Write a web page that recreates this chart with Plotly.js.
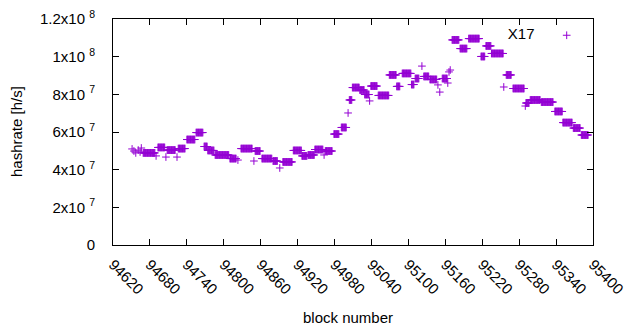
<!DOCTYPE html>
<html>
<head>
<meta charset="utf-8">
<script src="https://cdn.plot.ly/plotly-3.0.1.min.js"></script>
<style>html,body{margin:0;padding:0;background:#fff;}#chart{width:640px;height:330px;}</style>
</head>
<body>
<div id="chart"></div>
<script>
// Runs of consecutive blocks that share one hashrate value
const runStart = [94651,94654,94657,94661,94664,94666,94669,94690,94693,94706,94708,94724,94726,94740,94755,94768,94774,94786,94810,94823,94828,94849,94851,94862,94880,94891,94896,94913,94927,94937,94948,94963,94965,94979,94991,95002,95004,95009,95021,95029,95037,95039,95051,95069,95081,95090,95105,95111,95122,95125,95135,95148,95151,95155,95164,95166,95168,95171,95184,95198,95218,95226,95235,95255,95259,95270,95290,95291,95298,95316,95338,95351,95368,95381];
const runEnd   = [94651,94654,94657,94661,94664,94666,94688,94690,94704,94706,94721,94724,94737,94753,94766,94773,94784,94808,94820,94823,94846,94849,94859,94878,94887,94891,94911,94926,94935,94947,94961,94963,94976,94987,94999,95002,95008,95020,95028,95036,95037,95049,95068,95080,95086,95104,95109,95117,95122,95133,95146,95148,95151,95163,95164,95166,95168,95182,95195,95215,95224,95234,95254,95255,95267,95288,95290,95296,95314,95335,95350,95366,95379,95392];
const runValueM = [51.0,49.9,48.9,50.4,49.4,51.5,48.9,47.3,51.8,46.7,50.4,46.7,51.2,56.0,59.7,52.3,50.2,47.8,45.9,45.1,51.2,44.6,49.9,45.9,44.6,40.9,44.1,50.2,47.3,47.8,50.7,47.8,49.9,58.9,62.4,70.1,77.0,83.6,82.3,79.9,76.5,84.4,79.4,90.3,84.2,91.1,85.2,88.4,95.0,89.5,87.9,85.0,81.2,88.4,86.0,91.9,92.9,108.9,104.3,109.6,100.1,105.7,101.7,83.9,90.3,83.1,73.8,75.4,77.0,75.9,70.9,65.0,62.1,58.4];

const xTickVals = [94620,94680,94740,94800,94860,94920,94980,95040,95100,95160,95220,95280,95340,95400];
const yTickVals = [0,2e7,4e7,6e7,8e7,1e8,1.2e8];
const yTickText = ['0','2x10 <sup>7</sup>','4x10 <sup>7</sup>','6x10 <sup>7</sup>','8x10 <sup>7</sup>','1x10 <sup>8</sup>','1.2x10 <sup>8</sup>'];

// decode the run-length table into one point per block
const blocks = [], hashrate = [];
for (let i = 0; i < runStart.length; i++) {
  for (let b = runStart[i]; b <= runEnd[i]; b++) {
    blocks.push(b);
    hashrate.push(runValueM[i] * 1e6);
  }
}

const FONT = {family: '"Liberation Sans", Arial, sans-serif', size: 15, color: '#000'};
const purple = '#9400D3';

const trace = {
  x: blocks, y: hashrate, type: 'scatter', mode: 'markers', name: ' ',
  marker: {symbol: 'cross-thin', size: 5.5, color: purple, line: {color: purple, width: 1}},
  hoverinfo: 'x+y'
};

const layout = {
  width: 640, height: 330,
  margin: {l: 113, r: 47, t: 19, b: 85, pad: 0},
  paper_bgcolor: '#fff', plot_bgcolor: '#fff',
  font: FONT,
  showlegend: true,
  legend: {
    x: 1.008, y: 1, xanchor: 'right', yanchor: 'top',
    bgcolor: 'rgba(0,0,0,0)', borderwidth: 0,
    title: {text: 'X17\u00a0', side: 'left', font: FONT},
    font: FONT, itemwidth: 30
  },
  xaxis: {
    range: [94620, 95400], tickvals: xTickVals, ticktext: xTickVals.map(String),
    tickangle: 45, ticks: 'inside', ticklen: 6, tickcolor: '#000',
    showline: true, linecolor: '#000', linewidth: 1, mirror: 'ticks',
    showgrid: false, zeroline: false, tickfont: FONT, ticklabelstandoff: 4
  },
  yaxis: {
    range: [0, 1.2e8], tickvals: yTickVals, ticktext: yTickText,
    ticks: 'inside', ticklen: 6, tickcolor: '#000',
    showline: true, linecolor: '#000', linewidth: 1, mirror: 'ticks',
    showgrid: false, zeroline: false, tickfont: FONT, ticklabelstandoff: 14
  },
  annotations: [
    {text: 'block number', xref: 'paper', yref: 'paper', x: 0.49, y: -0.32,
     xanchor: 'center', yanchor: 'middle', showarrow: false, font: FONT},
    {text: 'hashrate [h/s]', xref: 'paper', yref: 'paper', x: -0.202, y: 0.5,
     textangle: -90, xanchor: 'center', yanchor: 'middle', showarrow: false, font: FONT}
  ]
};

Plotly.newPlot('chart', [trace], layout, {staticPlot: true, displayModeBar: false});
</script>
</body>
</html>
